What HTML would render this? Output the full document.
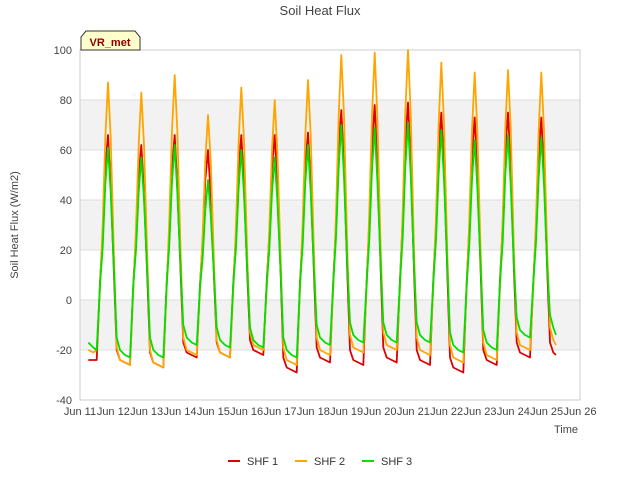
<!DOCTYPE html>
<html><head><meta charset="utf-8"><style>
body{margin:0;background:#fff;}
svg{display:block;font-family:"Liberation Sans","DejaVu Sans",sans-serif;}
</style></head><body>
<svg id="chart" width="640" height="480" viewBox="0 0 640 480">
<text x="320" y="15" text-anchor="middle" font-size="13" fill="#444">Soil Heat Flux</text>
<g id="bands"></g>
<g id="grid"></g>
<rect x="80" y="50" width="500" height="350" fill="none" stroke="#ccc"/>
<g id="yticks"></g>
<g id="xticks"></g>
<g id="series"></g>
<text x="0" y="0" transform="translate(18,225) rotate(-90)" text-anchor="middle" font-size="11" fill="#444">Soil Heat Flux (W/m2)</text>
<text x="578" y="433" text-anchor="end" font-size="11" fill="#444">Time</text>
<g>
<polygon points="81,50 81,37 86,31 135,31 140,37 140,50" fill="#ffffcc" stroke="#333" stroke-width="1"/>
<text x="110" y="46" text-anchor="middle" font-size="11" font-weight="bold" fill="#8b0000">VR_met</text>
</g>
<g id="legend"></g>
</svg>
<script>
const seriesNames = ["SHF 1","SHF 2","SHF 3"];
const seriesColors = ["#dd0000","#ffa500","#00e000"];
const yTicks = [-40,-20,0,20,40,60,80,100];
const xTickLabels = ["Jun 11","Jun 12","Jun 13","Jun 14","Jun 15","Jun 16","Jun 17","Jun 18","Jun 19","Jun 20","Jun 21","Jun 22","Jun 23","Jun 24","Jun 25","Jun 26"];
const firstDayFracs = [0.25,0.4,0.5,0.6,0.68,0.76,0.84,0.92];
const dayFracs = [0.02,0.1,0.2,0.35,0.5,0.6,0.68,0.76,0.84,0.92];
const lastDayFracs = [0.02,0.1,0.2,0.28];
const shf1 = [-24,-24,-24,7,26,53,66,46,
10,-20,-24,-25,-26,6,25,50,62,43,
9,-21,-25,-26,-27,7,26,53,66,46,
10,-17,-21,-22,-23,6,24,48,60,42,
9,-17,-21,-22,-23,7,26,53,66,46,
10,-16,-20,-21,-22,7,26,53,66,46,
10,-23,-27,-28,-29,7,27,54,67,47,
10,-19,-23,-24,-25,8,30,61,76,53,
11,-20,-24,-25,-26,8,31,62,78,55,
12,-19,-23,-24,-25,8,32,63,79,55,
12,-20,-24,-25,-26,8,30,60,75,53,
11,-23,-27,-28,-29,7,29,58,73,51,
11,-20,-24,-25,-26,8,30,60,75,53,
11,-17,-21,-22,-23,7,29,58,73,51,
11,-17,-21,-22];
const shf2 = [-20,-21,-20,5,30,65,87,65,
17,-19,-24,-25,-26,4,29,62,83,62,
17,-20,-25,-26,-27,5,32,68,90,68,
18,-15,-20,-21,-22,4,26,56,74,56,
15,-16,-21,-22,-23,4,30,64,85,64,
17,-13,-18,-19,-20,4,28,60,80,60,
16,-19,-24,-25,-26,4,31,66,88,66,
18,-15,-20,-21,-22,5,34,74,98,74,
20,-14,-19,-20,-21,5,35,74,99,74,
20,-13,-18,-19,-20,5,35,75,100,75,
20,-15,-20,-21,-22,5,33,71,95,71,
19,-18,-23,-24,-25,5,32,68,91,68,
18,-17,-22,-23,-24,5,32,69,92,69,
18,-13,-18,-19,-20,5,32,68,91,68,
18,-11,-16,-18];
const shf3 = [-17,-19,-20,6,21,46,61,43,
12,-15,-20,-22,-23,6,20,43,57,40,
11,-15,-20,-22,-23,6,22,47,62,43,
12,-10,-15,-17,-18,5,17,36,48,34,
10,-11,-16,-18,-19,6,21,45,60,42,
12,-11,-16,-18,-19,6,20,43,57,40,
11,-15,-20,-22,-23,6,22,47,62,43,
12,-10,-15,-17,-18,7,25,53,70,49,
14,-9,-14,-16,-17,7,24,52,69,48,
14,-9,-14,-16,-17,7,25,53,71,50,
14,-9,-14,-16,-17,7,24,51,68,48,
14,-13,-18,-20,-21,6,22,48,64,45,
13,-12,-17,-19,-20,7,23,50,66,46,
13,-7,-12,-14,-15,7,23,49,65,46,
13,-6,-11,-14];
const allSeries = [shf1, shf2, shf3];

const NS = "http://www.w3.org/2000/svg";
const X0=80, X1=580, Y0=400, Y1=50, DMIN=0, DMAX=15, VMIN=-40, VMAX=100;
function xs(d){return X0+(d-DMIN)/(DMAX-DMIN)*(X1-X0);}
function ys(v){return Y0-(v-VMIN)/(VMAX-VMIN)*(Y0-Y1);}
function mk(tag, attrs, parent){const e=document.createElementNS(NS,tag);for(const k in attrs)e.setAttribute(k,attrs[k]);parent.appendChild(e);return e;}

const times = [];
firstDayFracs.forEach(f=>times.push(f));
for(let d=1; d<=13; d++) dayFracs.forEach(f=>times.push(d+f));
lastDayFracs.forEach(f=>times.push(14+f));

const bands = document.getElementById('bands');
[[60,80],[20,40],[-20,0]].forEach(b=>{
  const r = mk('rect',{x:X0,y:ys(b[1]),width:X1-X0,height:ys(b[0])-ys(b[1]),fill:'#f2f2f2'},bands);
  
  
});
const grid = document.getElementById('grid');
const yt = document.getElementById('yticks');
yTicks.forEach(v=>{
  const l = mk('line',{x1:X0,x2:X1,y1:ys(v),y2:ys(v),stroke:'#dddddd','stroke-width':1},grid);
  
  
  const t = mk('text',{x:72,y:ys(v)+4,'text-anchor':'end','font-size':11,fill:'#444'},yt);
  t.textContent = v;
  
  
});
const xt = document.getElementById('xticks');
xTickLabels.forEach((lab,i)=>{
  const t = mk('text',{x:xs(i),y:415,'text-anchor':'middle','font-size':11,fill:'#444'},xt);
  t.textContent = lab;
  
  
});
const sg = document.getElementById('series');
allSeries.forEach((vals,si)=>{
  const pts = vals.map((v,i)=>xs(times[i]).toFixed(1)+','+ys(v).toFixed(1)).join(' ');
  const p = mk('polyline',{points:pts,fill:'none',stroke:seriesColors[si],'stroke-width':1.8,'stroke-linejoin':'round'},sg);
  
  
});
const lg = document.getElementById('legend');
const lx = [228,295,362];
seriesNames.forEach((n,i)=>{
  const g = mk('g',{},lg);
  
  
  mk('line',{x1:lx[i],x2:lx[i]+12,y1:461,y2:461,stroke:seriesColors[i],'stroke-width':2},g);
  const t = mk('text',{x:lx[i]+19,y:465,'font-size':11,fill:'#333'},g);
  t.textContent = n;
});
</script>
</body></html>
